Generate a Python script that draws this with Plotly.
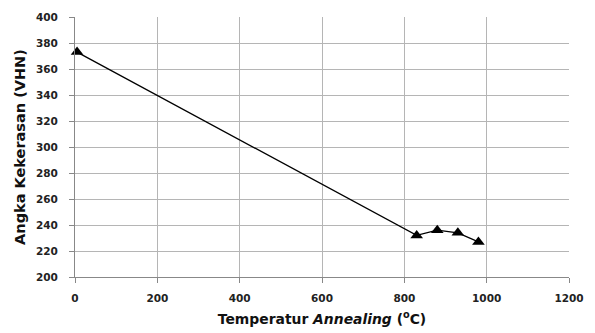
import plotly.graph_objects as go

temperature = [5, 830, 880, 930, 980]
hardness = [373, 232, 236, 234, 227]
x_ticks = [0, 200, 400, 600, 800, 1000, 1200]
y_ticks = [200, 220, 240, 260, 280, 300, 320, 340, 360, 380, 400]

fig = go.Figure()
fig.add_trace(go.Scatter(
    x=temperature, y=hardness, mode="lines+markers",
    line=dict(color="black", width=1.3),
    marker=dict(symbol="triangle-up", size=11, color="black"),
    showlegend=False, cliponaxis=False,
))

font_family = "DejaVu Sans, sans-serif"
tick_font = dict(size=10.5, family=font_family, color="#222", weight="bold")
fig.update_layout(
    width=595, height=333,
    margin=dict(l=75, r=26, t=17, b=56, autoexpand=False),
    paper_bgcolor="white", plot_bgcolor="white",
    font=dict(family=font_family, color="#222", size=11),
    xaxis=dict(
        range=[0, 1200], tickvals=x_ticks, ticks="outside", ticklen=5,
        tickcolor="#888", showgrid=True, gridcolor="#b5b5b5", gridwidth=1,
        showline=True, linecolor="#888", linewidth=1, zeroline=False,
        tickfont=tick_font, ticklabelstandoff=6,
        title=dict(text="Temperatur <i>Annealing</i> (<sup>o</sup>C)",
                   font=dict(size=13.9, color="#111", weight="bold"), standoff=11),
        automargin=False,
    ),
    yaxis=dict(
        range=[200, 400], tickvals=y_ticks, ticks="outside", ticklen=5,
        tickcolor="#888", showgrid=True, gridcolor="#b5b5b5", gridwidth=1,
        showline=True, linecolor="#888", linewidth=1, zeroline=False,
        tickfont=tick_font, ticklabelstandoff=9,
        title=dict(text="Angka Kekerasan (VHN)",
                   font=dict(size=14.5, color="#111", weight="bold"), standoff=6),
        automargin=False,
    ),
)
fig.write_html("out.html", config={"displayModeBar": False},
               post_script="document.body.style.margin='0';")
